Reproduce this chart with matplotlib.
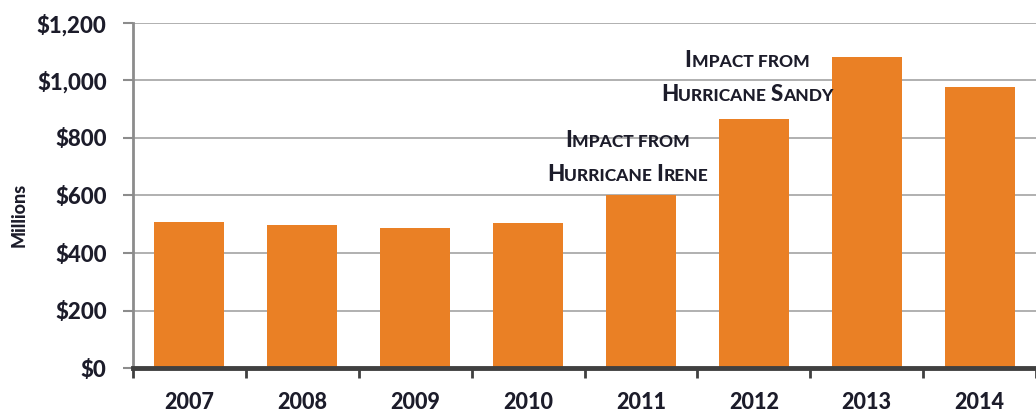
import matplotlib
matplotlib.use("Agg")
import matplotlib.pyplot as plt
from matplotlib.offsetbox import TextArea, HPacker, VPacker, AnnotationBbox

years = ["2007", "2008", "2009", "2010", "2011", "2012", "2013", "2014"]
values = [508, 497, 487, 504, 602, 866, 1083, 978]
yticks = [0, 200, 400, 600, 800, 1000, 1200]
ytick_labels = ["$0", "$200", "$400", "$600", "$800", "$1,000", "$1,200"]

# Annotations: list of lines; each line is list of (text, is_big)
irene_lines = [[("I", True), ("MPACT FROM", False)],
               [("H", True), ("URRICANE ", False), ("I", True), ("RENE", False)]]
sandy_lines = [[("I", True), ("MPACT FROM", False)],
               [("H", True), ("URRICANE ", False), ("S", True), ("ANDY", False)]]

FONT = "Lato"
TXT = "#1c1c2a"
BAR = "#EA8025"

fig = plt.figure(figsize=(10.36, 4.15), dpi=100)
ax = fig.add_axes([133/1036, 47/415, 1 - 133/1036, (368-23)/415])

x = list(range(len(years)))
ax.bar(x, values, width=0.62, color=BAR, zorder=3)

ax.set_ylim(0, 1200)
ax.set_xlim(-0.5, -0.5 + 903/113.3)
ax.set_yticks(yticks)
ax.set_yticklabels(ytick_labels)
ax.yaxis.grid(True, color="#a3a3a3", lw=1.2, zorder=0)
ax.set_axisbelow(True)

ax.set_xticks(x)
ax.set_xticklabels(years)
ax.set_xticks([i - 0.5 for i in range(len(years) + 1)], minor=True)
ax.tick_params(axis="x", which="major", length=0, pad=17)
ax.tick_params(axis="x", which="minor", length=7, width=2, color="#404040", direction="out")
ax.tick_params(axis="y", length=7, width=1.5, color="#8c8c8c", pad=12)

for lab in ax.get_xticklabels() + ax.get_yticklabels():
    lab.set_fontfamily(FONT)
    lab.set_fontweight("black")
    lab.set_fontsize(16)
    lab.set_color(TXT)
for lab in ax.get_xticklabels():
    lab.set_fontsize(15.5)

for s in ["top", "right"]:
    ax.spines[s].set_visible(False)
ax.spines["left"].set_color("#8c8c8c")
ax.spines["left"].set_linewidth(2)
ax.spines["bottom"].set_color("#404040")
ax.spines["bottom"].set_linewidth(3.5)
ax.spines["bottom"].set_zorder(4)

fig.text(19/1036, 1 - 215/415, "Millions", rotation=90, ha="center", va="center",
         fontfamily=FONT, fontweight="black", fontsize=13, color=TXT)


def smallcaps_block(lines, xy):
    rows = []
    for line in lines:
        parts = []
        for txt, big in line:
            parts.append(TextArea(txt, textprops=dict(fontfamily=FONT, fontweight="black",
                                                      fontsize=16 if big else 12.5,
                                                      color=TXT)))
        rows.append(HPacker(children=parts, align="baseline", pad=0, sep=0))
    box = VPacker(children=rows, align="center", pad=0, sep=9)
    ab = AnnotationBbox(box, xy, xycoords="data", frameon=False, box_alignment=(0.5, 0.5))
    ax.add_artist(ab)


smallcaps_block(irene_lines, (3.88, 732))
smallcaps_block(sandy_lines, (4.94, 1010))

fig.savefig("out.png", dpi=100)
